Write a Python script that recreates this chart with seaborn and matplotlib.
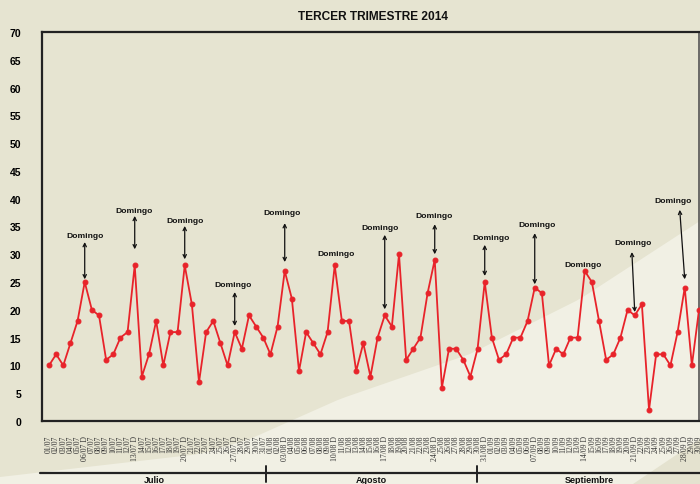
import numpy as np
import pandas as pd
import matplotlib
matplotlib.use('Agg')
import matplotlib.pyplot as plt
import matplotlib.transforms as mtransforms
from matplotlib.patches import Polygon
import seaborn as sns

# valores diarios, tercer trimestre 2014
julio = [10, 12, 10, 14, 18, 25, 20, 19, 11, 12, 15, 16, 28, 8, 12, 18, 10, 16, 16, 28,
         21, 7, 16, 18, 14, 10, 16, 13, 19, 17, 15]
agosto = [12, 17, 27, 22, 9, 16, 14, 12, 16, 28, 18, 18, 9, 14, 8, 15, 19, 17, 30, 11,
          13, 15, 23, 29, 6, 13, 13, 11, 8, 13, 25]
septiembre = [15, 11, 12, 15, 15, 18, 24, 23, 10, 13, 12, 15, 15, 27, 25, 18, 11, 12, 15, 20,
              19, 21, 2, 12, 12, 10, 16, 24, 10, 20]
meses = ['Julio', 'Agosto', 'Septiembre']

fechas = pd.date_range('2014-07-01', '2014-09-30', freq='D')
valores = julio + agosto + septiembre
etiquetas = [f.strftime('%d/%m') + (' D' if f.dayofweek == 6 else '') for f in fechas]

# anotaciones "Domingo": altura del texto, extremo superior e inferior de la flecha
dom_texto_y = [33.3, 37.9, 36.0, 24.6, 37.6, 30.2, 34.9, 37.0, 33.1, 35.3, 28.1, 32.2, 39.7]
dom_texto_dx = [0, -0.1, 0.1, -0.3, -0.4, 0.2, -0.6, -0.1, 0.9, 0.3, -0.3, -0.3, -1.7]
dom_flecha_sup = [32.2, 36.9, 35.1, 23.2, 35.6, None, 33.5, 35.4, 31.7, 33.8, None, 30.4, 38.0]
dom_flecha_inf = [25.5, 30.9, 29.1, 17.1, 28.6, None, 20.1, 30.0, 26.1, 24.6, None, 19.6, 25.5]
dom_flecha_dx = [0, 0, 0, 0, 0, 0, 0, 0, 0, 0, 0, -0.4, -0.7]

df = pd.DataFrame({'pos': np.arange(len(valores)), 'valor': valores})

sns.set_style('white')
plt.rcParams['font.family'] = ['Liberation Sans', 'DejaVu Sans']

fondo = '#e6e4d1'
claro = '#f1f0e4'
rojo = '#e8232a'

fig = plt.figure(figsize=(7, 4.85), dpi=100, facecolor=fondo)

# fondo: zona clara curva
bg = fig.add_axes([0, 0, 1, 1], zorder=-10)
bg.set_xlim(0, 700)
bg.set_ylim(485, 0)
bg.axis('off')
cx = [0, 200, 250, 340, 470, 580, 700]
cy = [478, 455, 440, 400, 355, 300, 222]
xs = np.linspace(0, 700, 80)
ys = np.interp(xs, cx, cy)
bg.add_patch(Polygon(np.column_stack([np.r_[xs, 700, 0], np.r_[ys, 485, 485]]),
                     closed=True, facecolor=claro, edgecolor='none'))
bg.add_patch(Polygon([[633, 485], [700, 485], [700, 440]], closed=True,
                     facecolor='#e4e2cf', edgecolor='none'))

ax = fig.add_axes([0.06, 0.1299, 0.9386, 0.8021])
ax.set_facecolor('none')

sns.lineplot(data=df, x='pos', y='valor', ax=ax, color=rojo, linewidth=1.3,
             marker='o', markersize=3.5, markeredgecolor=rojo, zorder=3)

ax.set_xlim(-0.98, 90.8)
ax.set_ylim(0, 70)
ax.set_yticks(range(0, 71, 5))
ax.set_xticks(df['pos'])
ax.set_xticklabels(etiquetas, rotation=90, fontsize=5.6, color='#333333',
                   va='top', family='Liberation Serif')
ax.set_xlabel('')
ax.set_ylabel('')
for lab in ax.get_yticklabels():
    lab.set_fontweight('bold')
    lab.set_fontsize(7.5)
ax.tick_params(axis='y', colors=rojo, length=8, width=1.2, labelcolor='black', pad=7)
ax.tick_params(axis='x', colors=rojo, length=7, width=1.2, labelcolor='#333333', pad=3)

for lado in ['left', 'bottom', 'top']:
    ax.spines[lado].set_color('#222222')
    ax.spines[lado].set_linewidth(1.6)
ax.spines['right'].set_color('#555555')
ax.spines['right'].set_linewidth(1.2)

# domingos
domingos = [i for i, f in enumerate(fechas) if f.dayofweek == 6]
for k, i in enumerate(domingos):
    ax.text(i + dom_texto_dx[k], dom_texto_y[k], 'Domingo', ha='center', va='center',
            fontsize=6.1, fontweight='bold', color='#111111', zorder=4)
    if dom_flecha_sup[k] is not None:
        ax.annotate('', xy=(i, dom_flecha_inf[k]), xytext=(i + dom_flecha_dx[k], dom_flecha_sup[k]),
                    arrowprops=dict(arrowstyle='<->', color='#111111', lw=0.9,
                                    mutation_scale=6, shrinkA=0, shrinkB=0), zorder=4)

fig.text(373 / 700, 1 - 17 / 485, 'TERCER TRIMESTRE 2014', ha='center', va='center',
         fontsize=8.6, fontweight='bold', color='#111111')

# separacion de meses
trans = mtransforms.blended_transform_factory(ax.transData, fig.transFigure)
y_linea = 1 - 474 / 485
ax.plot([-1.26, 95], [y_linea, y_linea], color='#222222', lw=1.6, transform=trans, clip_on=False)
for xm in [30.4, 59.9]:
    ax.plot([xm, xm], [1 - 467 / 485, 1 - 483 / 485], color='#222222', lw=1.4,
            transform=trans, clip_on=False)
for xm, nombre in zip([14.8, 45.1, 75.6], meses):
    ax.text(xm, 1 - 476.5 / 485, nombre, ha='center', va='top', fontsize=6.5, fontweight='bold',
            color='#111111', transform=trans, clip_on=False)

fig.savefig('out.png', dpi=100, facecolor=fondo)
